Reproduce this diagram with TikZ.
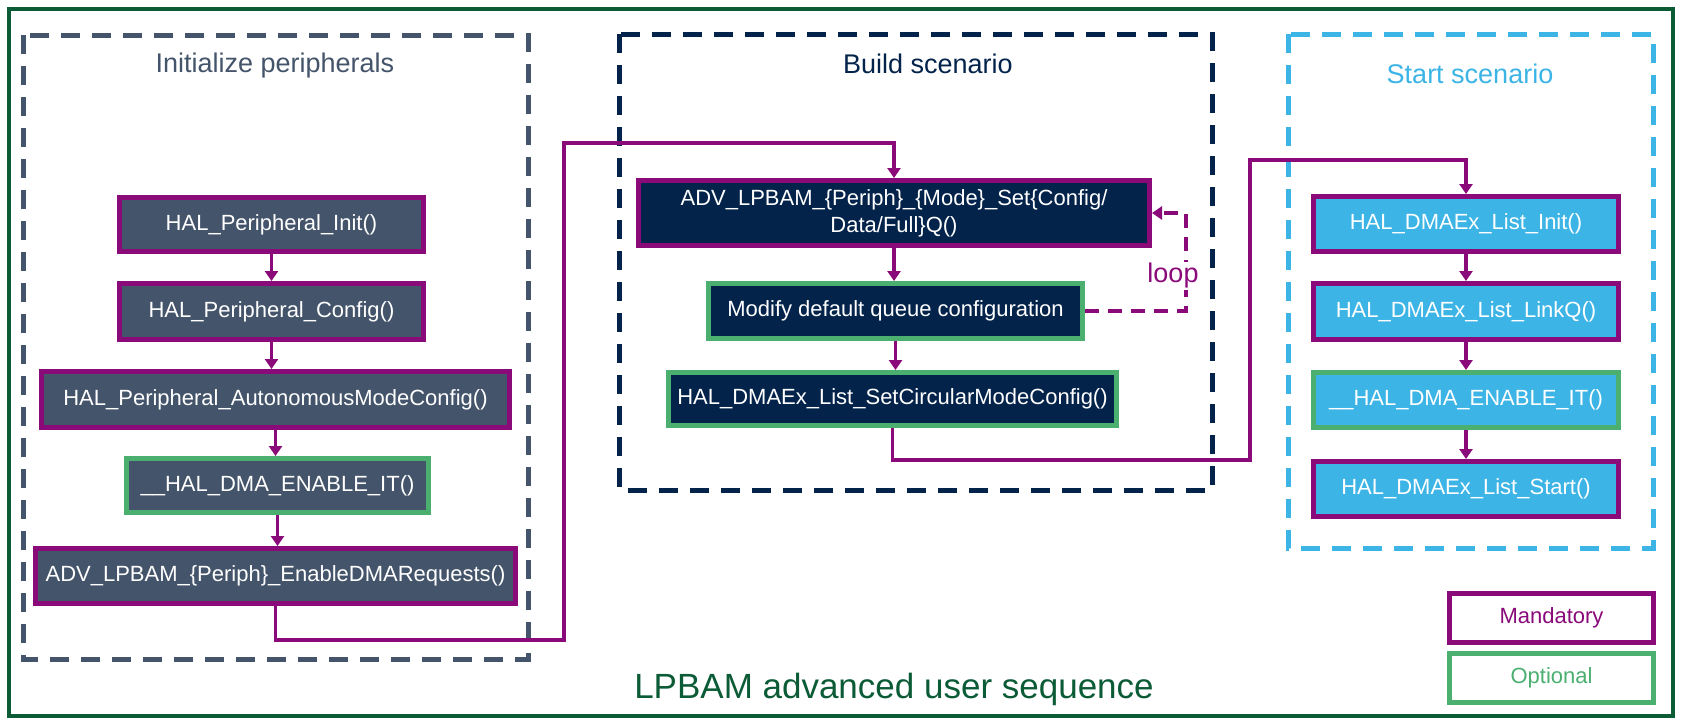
\documentclass[tikz,border=0pt]{standalone}
\usepackage{fontspec}
\setmainfont{Liberation Sans}
\usetikzlibrary{arrows.meta}
\definecolor{frameg}{HTML}{0B5C36}
\definecolor{slate}{HTML}{44546A}
\definecolor{navy}{HTML}{03234B}
\definecolor{sky}{HTML}{3CB4E6}
\definecolor{mpurple}{HTML}{8A0A7A}
\definecolor{ogreen}{HTML}{4BAF70}
\begin{document}
\begin{tikzpicture}[x=1pt,y=-1pt,
  fbox/.style={draw, line width=5pt, inner sep=0pt, text=white, align=center,
    font=\fontsize{22}{27}\selectfont},
  mand/.style={fbox, draw=mpurple},
  opt/.style={fbox, draw=ogreen},
  group/.style={line width=5pt, dash pattern=on 19pt off 12pt},
  gtitle/.style={font=\fontsize{27}{32}\selectfont},
  conn/.style={draw=mpurple, line width=3.2pt, -{Triangle[length=10pt,width=13pt]}},
  loopln/.style={draw=mpurple, line width=4pt, dash pattern=on 14pt off 9pt, -{Triangle[length=10pt,width=13pt]}},
  legend/.style={draw, line width=5pt, fill=white, inner sep=0pt, minimum width=204pt, minimum height=49pt,
    font=\fontsize{22}{27}\selectfont}
]
\useasboundingbox (0,0) rectangle (1684,726);
\fill[white] (0,0) rectangle (1684,726);
% outer frame
\draw[frameg, line width=4pt] (9,9) rectangle (1673,716);

% group frames
\draw[group, slate] (23,35) rectangle (528,659);
\draw[group, navy] (619,34) rectangle (1212,490);
\draw[group, sky] (1288,34) rectangle (1653,548);

\node[gtitle, text=slate] (t1) at (275,66) {Initialize peripherals};
\node[gtitle, text=navy] (t2) at (928,64) {Build scenario};
\node[gtitle, text=sky] (t3) at (1470,74) {Start scenario};

% left column
\node[mand, fill=slate, minimum width=304pt, minimum height=54pt] (L1) at (271.5,224.5) {HAL\_Peripheral\_Init()};
\node[mand, fill=slate, minimum width=304pt, minimum height=56pt] (L2) at (271.5,311.5) {HAL\_Peripheral\_Config()};
\node[mand, fill=slate, minimum width=468pt, minimum height=56pt] (L3) at (275.5,399.5) {HAL\_Peripheral\_AutonomousModeConfig()};
\node[opt, fill=slate, minimum width=302pt, minimum height=54pt] (L4) at (277.5,485.5) {\_\_HAL\_DMA\_ENABLE\_IT()};
\node[mand, fill=slate, minimum width=480pt, minimum height=55pt] (L5) at (275.5,576) {ADV\_LPBAM\_\{Periph\}\_EnableDMARequests()};

% middle column
\node[mand, fill=navy, minimum width=511pt, minimum height=65pt] (M1) at (894,213) {ADV\_LPBAM\_\{Periph\}\_\{Mode\}\_Set\{Config/\\Data/Full\}Q()};
\node[opt, fill=navy, minimum width=374pt, minimum height=55pt] (M2) at (895.5,311) {Modify default queue configuration};
\node[opt, fill=navy, minimum width=448pt, minimum height=53pt] (M3) at (892.5,399) {HAL\_DMAEx\_List\_SetCircularModeConfig()};

% right column
\node[mand, fill=sky, minimum width=305pt, minimum height=55pt] (R1) at (1466,224) {HAL\_DMAEx\_List\_Init()};
\node[mand, fill=sky, minimum width=305pt, minimum height=56pt] (R2) at (1466,311.5) {HAL\_DMAEx\_List\_LinkQ()};
\node[opt, fill=sky, minimum width=305pt, minimum height=55pt] (R3) at (1466,400) {\_\_HAL\_DMA\_ENABLE\_IT()};
\node[mand, fill=sky, minimum width=305pt, minimum height=55pt] (R4) at (1466,489) {HAL\_DMAEx\_List\_Start()};

% legend
\node[legend, draw=mpurple, text=mpurple] (lm) at (1551.5,618) {Mandatory};
\node[legend, draw=ogreen, text=ogreen] (lo) at (1551.5,678) {Optional};

% bottom title
\node[text=frameg, font=\fontsize{35}{40}\selectfont] (title) at (894,689) {LPBAM advanced user sequence};

% arrows in columns
\draw[conn] (L1.south) -- (L1.south |- L2.north);
\draw[conn] (L2.south) -- (L2.south |- L3.north);
\draw[conn] (L3.south) -- (L3.south |- L4.north);
\draw[conn] (L4.south) -- (L4.south |- L5.north);
\draw[conn] (M1.south) -- (M1.south |- M2.north);
\draw[conn] (M2.south) -- (M2.south |- M3.north);
\draw[conn] (R1.south) -- (R1.south |- R2.north);
\draw[conn] (R2.south) -- (R2.south |- R3.north);
\draw[conn] (R3.south) -- (R3.south |- R4.north);

% long connectors
\coordinate (c1a) at (564,640);
\coordinate (c1b) at (564,143);
\draw[conn] (L5.south) |- (c1a) -- (c1b) -| (M1.north);
\coordinate (c2a) at (1250,460);
\coordinate (c2b) at (1250,160);
\draw[conn] (M3.south) |- (c2a) -- (c2b) -| (R1.north);

% loop
\coordinate (la) at (1186,311);
\coordinate (lb) at (1186,213);
\draw[loopln] (M2.east) -- (la) -- (lb) -- (M1.east);
\node[fill=white, text=mpurple, font=\fontsize{27}{32}\selectfont, inner sep=1pt] (loop) at (1173,276) {loop};
\end{tikzpicture}
\end{document}
